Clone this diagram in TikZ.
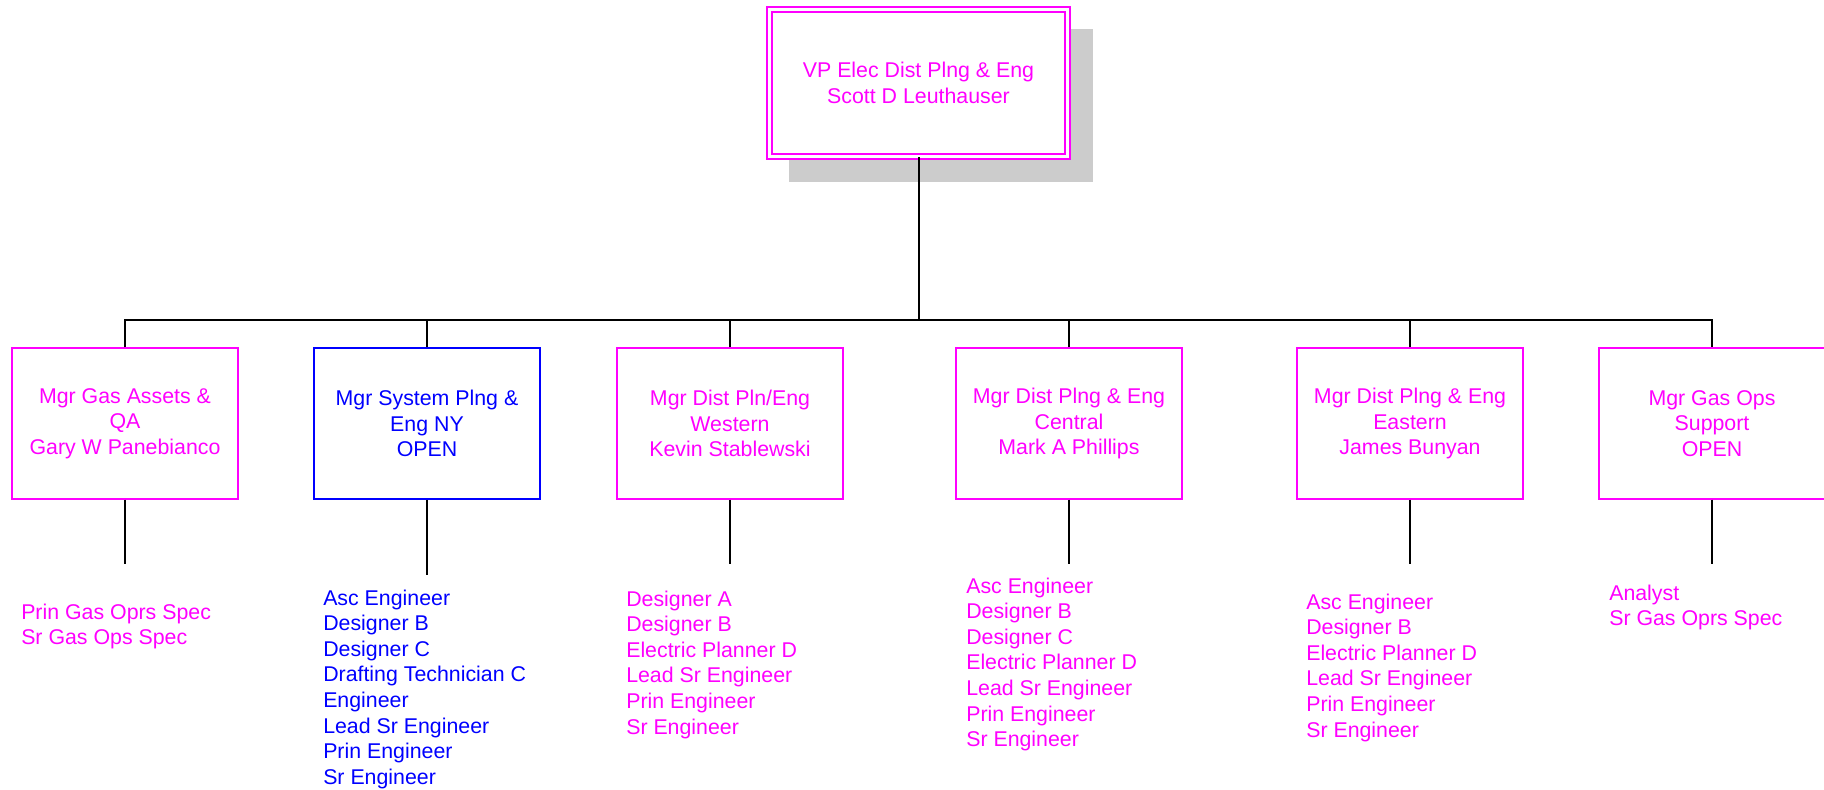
\documentclass[tikz,border=0pt]{standalone}
\usepackage{fontspec}
\setmainfont{Liberation Sans}
\definecolor{mag}{RGB}{255,0,255}
\definecolor{blu}{RGB}{0,0,255}
\definecolor{shadegray}{RGB}{204,204,204}
\begin{document}
\begin{tikzpicture}[x=0.75pt,y=-0.75pt,
  txt/.style={font=\fontsize{16}{19.2}\selectfont},
  box/.style={txt, draw=mag, line width=1.1pt, fill=white, minimum width=169.5pt,
    minimum height=113.25pt, inner sep=0pt, align=center, text=mag},
  bluebox/.style={box, draw=blu, text=blu},
  topbox/.style={txt, draw=mag, line width=1.1pt, double=white, double distance=2.6pt,
    fill=white, minimum width=223.5pt, minimum height=110.25pt, inner sep=0pt,
    align=center, text=mag},
  conn/.style={draw=black, line width=1.5pt},
  subconn/.style={draw=black, line width=1.1pt},
  list/.style={txt, align=left, inner sep=0pt, anchor=base west}]
\useasboundingbox (0,0) rectangle (1824,789);
\clip (0,0) rectangle (1824,789);
% shadow of top box
\fill[shadegray] (789,29) rectangle (1093,182);
% top box
\node[topbox] (top) at (918.5,83) {VP Elec Dist Plng \& Eng\\Scott D Leuthauser};
% manager boxes
\node[box] (b1) at (125,423.5) {Mgr Gas Assets \&\\QA\\Gary W Panebianco};
\node[bluebox] (b2) at (427,423.5) {Mgr System Plng \&\\Eng NY\\OPEN};
\node[box] (b3) at (730,423.5) {Mgr Dist Pln/Eng\\Western\\Kevin Stablewski};
\node[box] (b4) at (1069,423.5) {Mgr Dist Plng \& Eng\\Central\\Mark A Phillips};
\node[box] (b5) at (1410,423.5) {Mgr Dist Plng \& Eng\\Eastern\\James Bunyan};
\node[box] (b6) at (1712,423.5) {Mgr Gas Ops\\Support\\OPEN};
% bus
\coordinate (bus) at (918.5,320);
\draw[conn] (top.south) -- (bus);
\draw[conn] (b1.north) -- (b1.north |- bus) -- (b6.north |- bus) -- (b6.north);
\foreach \b in {b2,b3,b4,b5}{\draw[conn] (\b.north) -- (\b.north |- bus);}
% lower connectors
\coordinate (e1) at (125,564);
\coordinate (e2) at (427,575);
\coordinate (e3) at (730,564);
\coordinate (e4) at (1069,564);
\coordinate (e5) at (1410,564);
\coordinate (e6) at (1712,564);
\draw[subconn] (b1.south) -- (e1);
\draw[subconn] (b2.south) -- (e2);
\draw[subconn] (b3.south) -- (e3);
\draw[subconn] (b4.south) -- (e4);
\draw[subconn] (b5.south) -- (e5);
\draw[subconn] (b6.south) -- (e6);
% lists (anchored at the baseline of their last line)
\node[list, text=mag] (l1) at (21,644.6) {Prin Gas Oprs Spec\\Sr Gas Ops Spec};
\node[list, text=blu] (l2) at (323,784.2) {Asc Engineer\\Designer B\\Designer C\\Drafting Technician C\\Engineer\\Lead Sr Engineer\\Prin Engineer\\Sr Engineer};
\node[list, text=mag] (l3) at (626,734) {Designer A\\Designer B\\Electric Planner D\\Lead Sr Engineer\\Prin Engineer\\Sr Engineer};
\node[list, text=mag] (l4) at (966,746.6) {Asc Engineer\\Designer B\\Designer C\\Electric Planner D\\Lead Sr Engineer\\Prin Engineer\\Sr Engineer};
\node[list, text=mag] (l5) at (1306,737) {Asc Engineer\\Designer B\\Electric Planner D\\Lead Sr Engineer\\Prin Engineer\\Sr Engineer};
\node[list, text=mag] (l6) at (1609,625.6) {Analyst\\Sr Gas Oprs Spec};
\end{tikzpicture}
\end{document}
